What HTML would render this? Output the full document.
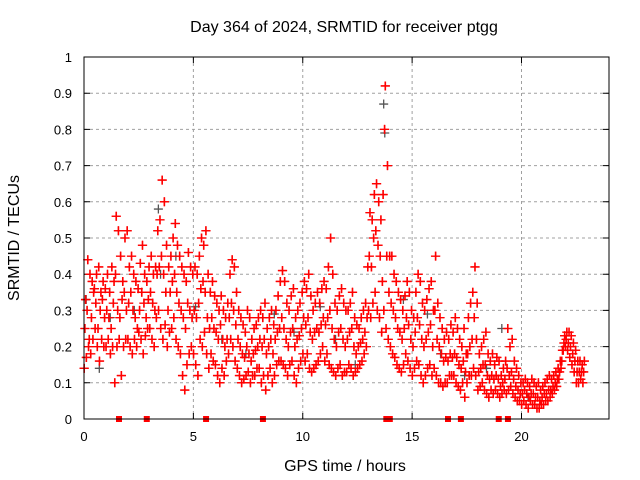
<!DOCTYPE html>
<html><head><meta charset="utf-8"><style>
body{margin:0;background:#fff;}
svg{display:block;font-family:"Liberation Sans",sans-serif;}
</style></head><body>
<svg id="chart" width="640" height="480" viewBox="0 0 640 480" xmlns="http://www.w3.org/2000/svg">
<text x="344" y="32" font-size="16" text-anchor="middle">Day 364 of 2024, SRMTID for receiver ptgg</text>
<text transform="translate(19,238) rotate(-90)" font-size="16" text-anchor="middle">SRMTID / TECUs</text>
<text x="345" y="471" font-size="16" text-anchor="middle">GPS time / hours</text>
<g id="grid"></g><g id="ticks"></g><g id="gray"></g><g id="red"></g><g id="sq"></g>
<rect x="84" y="57" width="525" height="362" fill="none" stroke="#000" stroke-width="1"/>
</svg>
<script>
const xTicks=[0,5,10,15,20];
const yTicks=[0,0.1,0.2,0.3,0.4,0.5,0.6,0.7,0.8,0.9,1];
const yTickLabels=["0","0.1","0.2","0.3","0.4","0.5","0.6","0.7","0.8","0.9","1"];
const startHour=0, stepHour=0.1;
const hiVals=[.33,.44,.40,.38,.36,.40,.42,.35,.38,.36,.40,.35,.42,.38,.56,.52,.45,.38,.50,.52,.42,.45,.40,.38,.36,.43,.48,.40,.38,.42,.45,.40,.42,.52,.55,.66,.60,.48,.42,.45,.50,.54,.48,.45,.42,.40,.38,.46,.42,.40,.42,.40,.45,.50,.48,.52,.40,.35,.38,.34,.32,.30,.34,.30,.28,.32,.40,.44,.42,.35,.30,.28,.26,.24,.30,.28,.22,.25,.26,.28,.30,.28,.32,.25,.28,.30,.26,.30,.34,.38,.41,.38,.32,.30,.34,.36,.28,.30,.32,.35,.38,.36,.40,.34,.30,.32,.35,.32,.36,.38,.36,.42,.50,.40,.32,.30,.34,.36,.32,.30,.30,.32,.35,.28,.26,.25,.28,.30,.32,.42,.57,.55,.62,.65,.60,.55,.62,.92,.70,.45,.45,.40,.38,.35,.33,.30,.34,.38,.35,.30,.28,.35,.40,.38,.32,.30,.33,.36,.38,.30,.45,.32,.28,.25,.22,.24,.22,.26,.24,.28,.25,.22,.20,.25,.18,.28,.32,.35,.42,.32,.18,.20,.22,.24,.18,.16,.18,.15,.17,.16,.12,.14,.16,.25,.20,.22,.16,.14,.12,.10,.10,.11,.10,.09,.11,.10,.09,.10,.08,.09,.10,.11,.12,.11,.12,.13,.14,.16,.19,.23,.24,.24,.23,.21,.19,.16,.16,.15,.16];
const midVals=[.25,.30,.22,.28,.35,.32,.25,.30,.33,.28,.30,.28,.25,.32,.40,.30,.28,.33,.35,.30,.32,.35,.30,.28,.25,.30,.35,.32,.28,.33,.35,.32,.30,.40,.42,.45,.40,.35,.30,.35,.38,.40,.35,.32,.30,.28,.25,.32,.30,.28,.30,.28,.32,.36,.38,.35,.28,.25,.28,.25,.24,.22,.26,.22,.20,.22,.28,.32,.30,.26,.22,.20,.18,.17,.20,.18,.16,.18,.19,.20,.22,.20,.22,.18,.20,.22,.18,.22,.24,.25,.28,.25,.22,.20,.24,.25,.20,.22,.23,.25,.28,.26,.28,.24,.22,.24,.25,.24,.26,.28,.26,.28,.30,.25,.22,.20,.24,.25,.22,.20,.22,.24,.25,.20,.18,.20,.21,.22,.24,.28,.45,.42,.50,.52,.48,.45,.38,.80,.45,.35,.32,.30,.28,.25,.24,.22,.25,.28,.26,.22,.20,.24,.28,.26,.22,.20,.22,.24,.26,.20,.30,.22,.20,.18,.16,.17,.16,.18,.17,.18,.17,.15,.14,.16,.13,.18,.20,.22,.28,.22,.13,.14,.15,.15,.12,.11,.12,.11,.12,.11,.09,.10,.11,.14,.12,.13,.11,.09,.08,.07,.07,.08,.07,.06,.07,.07,.06,.06,.05,.06,.07,.07,.08,.08,.09,.10,.11,.13,.16,.21,.22,.21,.20,.18,.16,.13,.13,.13,.13];
const loVals=[.14,.17,.20,.18,.22,.25,.20,.16,.22,.20,.20,.22,.18,.20,.10,.20,.22,.12,.20,.22,.22,.20,.18,.22,.20,.24,.22,.18,.23,.25,.25,.22,.20,.28,.30,.25,.22,.26,.20,.24,.25,.28,.22,.20,.18,.12,.08,.15,.18,.20,.18,.15,.12,.22,.20,.24,.18,.14,.18,.16,.15,.12,.10,.14,.12,.16,.18,.22,.20,.16,.14,.12,.10,.11,.12,.13,.10,.12,.12,.14,.14,.10,.12,.08,.12,.14,.10,.12,.15,.16,.16,.15,.14,.12,.15,.16,.12,.10,.14,.16,.18,.16,.18,.14,.13,.14,.15,.16,.18,.20,.16,.18,.15,.14,.13,.12,.14,.15,.12,.13,.13,.15,.14,.12,.13,.14,.15,.16,.18,.20,.30,.28,.32,.35,.30,.28,.24,.30,.25,.22,.20,.18,.17,.15,.14,.13,.15,.18,.16,.14,.12,.14,.16,.15,.12,.10,.12,.14,.15,.12,.14,.12,.10,.10,.09,.10,.10,.12,.12,.12,.10,.09,.08,.10,.06,.10,.12,.12,.14,.12,.08,.09,.10,.08,.07,.06,.08,.07,.08,.07,.06,.07,.08,.07,.08,.09,.07,.06,.05,.05,.04,.05,.04,.03,.05,.04,.04,.03,.03,.04,.04,.05,.05,.06,.07,.08,.09,.11,.14,.19,.20,.19,.17,.15,.13,.10,.10,.11,.10];
const grayHours=[0.1,0.7,1.2,2.3,3.4,3.5,4.2,5.1,6.3,7.4,8.7,9.6,10.8,11.5,12.4,13.7,13.75,14.6,15.7,16.3,17.4,18.4,19.1,20.3];
const grayVals=[.33,.14,.28,.30,.58,.40,.45,.31,.22,.18,.29,.24,.31,.22,.15,.87,.79,.33,.29,.18,.12,.14,.25,.06];
const flagHours=[1.6,2.87,5.58,8.18,13.82,13.9,13.98,16.64,17.23,18.96,19.38];
const NS="http://www.w3.org/2000/svg";
const X0=84,X1=609,Y0=419,Y1=57,XMAX=24;
const xs=h=>X0+(h/XMAX)*(X1-X0);
const ys=v=>Y0-v*(Y0-Y1);
function mk(tag,attrs,parent){const e=document.createElementNS(NS,tag);for(const k in attrs)e.setAttribute(k,attrs[k]);parent.appendChild(e);return e;}
const grid=document.getElementById('grid'),ticks=document.getElementById('ticks');
xTicks.forEach((t,i)=>{const x=xs(t);
 if(t>0){const g=mk('line',{x1:x,x2:x,y1:Y1,y2:Y0,stroke:'#a0a0a0','stroke-dasharray':'3,3'},grid);
 
 }
 const a=mk('path',{d:`M${x},${Y0}v-6M${x},${Y1}v6`,stroke:'#000'},ticks);
 
 
 const l=mk('text',{x:x,y:Y0+22,'font-size':13,'text-anchor':'middle'},ticks);l.textContent=String(t);
 
 
});
yTicks.forEach((t,i)=>{const y=ys(t);
 if(t>0&&t<1){const g=mk('line',{x1:X0,x2:X1,y1:y,y2:y,stroke:'#a0a0a0','stroke-dasharray':'3,3'},grid);
 
 }
 const a=mk('path',{d:`M${X0},${y}h6M${X1},${y}h-6`,stroke:'#000'},ticks);
 
 
 const l=mk('text',{x:X0-12,y:y+5,'font-size':13,'text-anchor':'end'},ticks);l.textContent=yTickLabels[i];
 
 
});
function plus(parent,h,v,color,name){const x=xs(h),y=ys(v);
 const p=mk('path',{d:`M${x-4.5},${y}h9M${x},${y-4.5}v9`,stroke:color,'stroke-width':1.3,fill:'none'},parent);
 
 }
const gray=document.getElementById('gray'),red=document.getElementById('red');
grayHours.forEach((h,i)=>plus(gray,h,grayVals[i],'#555','gray-point'));
[loVals,midVals,hiVals].forEach((arr,s)=>arr.forEach((v,i)=>{
 plus(red,startHour+i*stepHour+s*0.033,v,'#ff0000','srmtid-point');
 plus(red,startHour+i*stepHour+s*0.033+0.015,v,'#ff0000','srmtid-point');
}));
const sq=document.getElementById('sq');
flagHours.forEach(h=>{const r=mk('rect',{x:xs(h)-3,y:Y0-3,width:6,height:6,fill:'#ff0000'},sq);
 
 });
</script>
</body></html>
